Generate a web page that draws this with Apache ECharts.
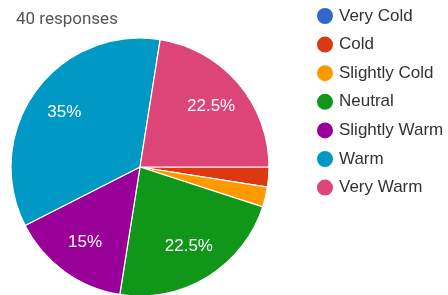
<!DOCTYPE html>
<html>
<head>
<meta charset="utf-8">
<script src="https://cdn.jsdelivr.net/npm/echarts@6/dist/echarts.min.js"></script>
<style>
  html, body { margin: 0; padding: 0; background: #fff; }
  #chart { width: 448px; height: 295px; }
</style>
</head>
<body>
<div id="chart"></div>
<script>
const categories = ['Very Cold', 'Cold', 'Slightly Cold', 'Neutral', 'Slightly Warm', 'Warm', 'Very Warm'];
const counts = [0, 1, 1, 9, 6, 14, 9];
const colors = ['#3366cc', '#dc3912', '#ff9900', '#109618', '#990099', '#0099c6', '#dd4477'];
const totalResponses = 40;

const pieData = categories.map((name, i) => ({ name: name, value: counts[i] }));

let myChart = echarts.init(document.getElementById('chart'), null, { renderer: 'canvas' });
let option = {
  animation: false,
  color: colors,
  title: {
    text: totalResponses + ' responses',
    left: 11,
    top: 6,
    textStyle: { fontFamily: 'Roboto', fontSize: 17, fontWeight: 'normal', color: '#555' }
  },
  legend: {
    orient: 'vertical',
    left: 310,
    top: 1,
    icon: 'circle',
    itemWidth: 18,
    itemHeight: 18,
    itemGap: 8.6,
    data: categories,
    textStyle: { fontFamily: 'Liberation Sans', fontSize: 17, color: '#333' }
  },
  series: [
    {
      type: 'pie',
      center: [140, 167],
      radius: [0, 129],
      startAngle: 0,
      clockwise: true,
      label: { show: false },
      labelLine: { show: false },
      emphasis: { disabled: true },
      itemStyle: { borderColor: '#fff', borderWidth: 1.2 },
      data: pieData
    },
    {
      // overlay only to place the percent labels further out
      type: 'pie',
      center: [140, 167],
      radius: [52, 129],
      startAngle: 0,
      clockwise: true,
      silent: true,
      legendHoverLink: false,
      itemStyle: { color: 'rgba(0,0,0,0)' },
      labelLine: { show: false },
      label: {
        show: true,
        position: 'inside',
        fontFamily: 'Liberation Sans',
        fontSize: 17,
        color: '#fff',
        formatter: (p) => p.percent >= 5 ? p.percent + '%' : ''
      },
      data: pieData
    }
  ]
};
myChart.setOption(option);
window.addEventListener('resize', myChart.resize);
</script>
</body>
</html>
